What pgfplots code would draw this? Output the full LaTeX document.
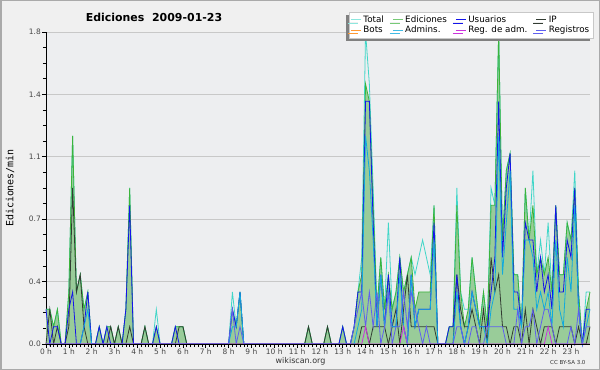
\documentclass[border=0pt]{standalone}
\usepackage{fontspec}
\setmainfont{DejaVu Sans}
\newfontfamily\monofont{DejaVu Sans Mono}
\usepackage{pgfplots}
\pgfplotsset{compat=1.18}
\usepackage{pgfplotstable}
\usetikzlibrary{shadows}
\definecolor{bgouter}{RGB}{240,240,240}
\definecolor{plotbg}{RGB}{237,238,240}
\definecolor{bordercol}{RGB}{170,170,170}
\definecolor{gridcol}{RGB}{200,200,200}
\definecolor{ticktext}{RGB}{70,70,70}
\definecolor{fillc}{RGB}{153,204,153}
\definecolor{totalc}{RGB}{64,214,200}
\definecolor{edc}{RGB}{60,180,60}
\definecolor{usrc}{RGB}{20,20,235}
\definecolor{ipc}{RGB}{50,60,50}
\definecolor{botc}{RGB}{255,153,51}
\definecolor{admc}{RGB}{17,170,221}
\definecolor{regadmc}{RGB}{204,51,221}
\definecolor{regc}{RGB}{95,95,240}
\definecolor{shadowc}{RGB}{128,128,128}
\definecolor{legborder}{RGB}{200,200,200}

\pgfplotstableread{
i E T U P A R M
0 0.2 0.2 0.2 0.0 0.0 0.0 0.0
1 0.2 0.2 0.0 0.2 0.0 0.0 0.0
2 0.1 0.1 0.1 0.0 0.0 0.0 0.0
3 0.2 0.2 0.1 0.1 0.0 0.0 0.0
4 0 0 0 0 0 0 0
5 0 0 0 0 0 0 0
6 0.3 0.3 0.2 0.1 0 0 0
7 1.2 1.2 0.3 0.9 0 0 0
8 0.3 0.3 0 0.3 0 0 0
9 0.4 0.4 0 0.4 0 0 0
10 0.2 0.2 0.1 0.1 0.1 0 0
11 0.3 0.3 0.3 0 0.2 0 0
12 0 0 0 0 0 0 0
13 0 0 0 0 0 0 0
14 0.1 0.1 0.1 0 0 0 0
15 0 0 0 0 0 0 0
16 0.1 0.1 0.1 0 0 0 0
17 0.1 0.1 0 0.1 0 0 0
18 0 0 0 0 0 0 0
19 0.1 0.1 0 0.1 0 0 0
20 0 0 0 0 0 0 0
21 0.2 0.2 0.2 0 0 0 0
22 0.9 0.9 0.8 0.1 0 0 0
23 0 0 0 0 0 0 0
24 0 0 0 0 0 0 0
25 0 0 0 0 0 0 0
26 0.1 0.1 0 0.1 0 0 0
27 0 0 0 0 0 0 0
28 0 0 0 0 0 0 0
29 0.1 0.2 0.1 0 0 0 0
30 0 0 0 0 0 0 0
31 0 0 0 0 0 0 0
32 0 0 0 0 0 0 0
33 0 0 0 0 0 0 0
34 0.1 0.1 0.1 0 0 0 0
35 0.1 0.1 0 0.1 0 0 0
36 0.1 0.1 0 0.1 0 0 0
37 0 0 0 0 0 0 0
38 0 0 0 0 0 0 0
39 0 0 0 0 0 0 0
40 0 0 0 0 0 0 0
41 0 0 0 0 0 0 0
42 0 0 0 0 0 0 0
43 0 0 0 0 0 0 0
44 0 0 0 0 0 0 0
45 0 0 0 0 0 0 0
46 0 0 0 0 0 0 0
47 0 0 0 0 0 0 0
48 0 0 0 0 0 0 0
49 0.2 0.3 0.2 0 0.1 0.2 0
50 0.1 0.1 0.1 0 0.1 0 0
51 0.3 0.3 0.3 0 0.3 0.1 0
52 0 0 0 0 0 0 0
53 0 0 0 0 0 0 0
54 0 0 0 0 0 0 0
55 0 0 0 0 0 0 0
56 0 0 0 0 0 0 0
57 0 0 0 0 0 0 0
58 0 0 0 0 0 0 0
59 0 0 0 0 0 0 0
60 0 0 0 0 0 0 0
61 0 0 0 0 0 0 0
62 0 0 0 0 0 0 0
63 0 0 0 0 0 0 0
64 0 0 0 0 0 0 0
65 0 0 0 0 0 0 0
66 0 0 0 0 0 0 0
67 0 0 0 0 0 0 0
68 0 0 0 0 0 0 0
69 0.1 0.1 0 0.1 0 0 0
70 0 0 0 0 0 0 0
71 0 0 0 0 0 0 0
72 0 0 0 0 0 0 0
73 0 0 0 0 0 0 0
74 0.1 0.1 0 0.1 0 0 0
75 0 0 0 0 0 0 0
76 0 0 0 0 0 0 0
77 0 0 0 0 0 0 0
78 0.1 0.1 0.1 0 0 0 0
79 0 0 0 0 0 0 0
80 0 0 0 0 0 0 0
81 0.1 0.1 0.1 0 0 0.1 0
82 0.3 0.3 0.3 0 0.1 0.2 0
83 0.4 0.5 0.3 0.1 0.2 0.3 0
84 1.5 1.8 1.4 0.1 1.2 0.1 0.1
85 1.4 1.5 1.4 0 1.0 0.3 0
86 0.8 0.9 0.7 0.1 0.6 0.1 0
87 0.2 0.2 0.1 0.1 0.1 0.3 0
88 0.5 0.5 0.4 0.1 0.4 0 0
89 0.2 0.2 0.1 0.1 0.1 0.1 0
90 0.4 0.7 0.4 0 0.3 0.3 0
91 0.2 0.2 0.1 0.1 0.1 0 0
92 0.3 0.3 0.1 0.2 0.1 0.1 0
93 0.5 0.5 0.5 0 0.4 0.1 0
94 0.3 0.3 0.1 0.2 0.1 0.3 0.1
95 0.4 0.4 0 0.4 0 0.1 0
96 0.5 0.5 0.4 0.1 0.4 0.3 0
97 0.2 0.4 0.1 0.1 0.1 0.2 0
98 0.3 0.5 0.2 0.1 0.2 0.1 0
99 0.3 0.6 0.2 0.1 0.2 0 0
100 0.3 0.5 0.2 0.1 0.2 0.1 0
101 0.3 0.4 0.2 0.1 0.2 0 0
102 0.8 0.8 0.7 0.1 0.6 0 0
103 0 0 0 0 0 0 0
104 0 0 0 0 0 0 0
105 0 0 0 0 0 0 0
106 0.1 0.1 0.1 0 0 0 0
107 0.1 0.1 0.1 0 0 0 0
108 0.8 0.9 0.4 0.4 0.3 0.1 0
109 0.3 0.3 0.1 0.2 0.1 0.1 0
110 0.1 0.2 0 0.1 0 0 0
111 0.2 0.2 0.1 0.1 0.1 0 0
112 0.5 0.5 0.3 0.2 0.3 0.1 0
113 0.3 0.3 0.2 0.1 0.2 0.1 0
114 0.1 0.1 0.1 0 0.1 0 0
115 0.3 0.3 0.1 0.2 0.1 0 0
116 0.1 0.1 0.1 0 0 0.1 0
117 0.8 0.9 0.3 0.5 0.2 0.1 0
118 0.8 0.8 0.5 0.3 0.3 0.1 0
119 1.8 1.8 1.4 0.4 1.2 0.1 0
120 0.6 0.6 0.5 0.1 0.4 0.1 0
121 1.0 1.0 0.9 0.1 0.7 0 0
122 1.1 1.1 1.1 0 1.0 0 0
123 0.4 0.4 0.3 0.1 0.2 0 0
124 0.4 0.4 0.3 0.1 0.2 0.2 0
125 0.1 0.1 0.1 0 0.1 0 0
126 0.9 0.9 0.7 0.2 0.6 0.1 0
127 0.6 0.6 0.6 0 0.6 0.1 0
128 0.8 1.0 0.6 0.2 0.5 0.2 0
129 0.4 0.4 0.3 0.1 0.2 0 0
130 0.5 0.6 0.5 0 0.3 0.1 0
131 0.4 0.4 0.3 0.1 0.2 0.2 0
132 0.5 0.7 0.4 0.1 0.3 0.2 0.1
133 0.3 0.3 0.2 0.1 0.1 0.1 0
134 0.8 0.8 0.8 0 0.6 0 0
135 0.4 0.4 0.3 0.1 0.2 0 0
136 0.4 0.4 0.3 0.1 0.1 0 0
137 0.7 0.7 0.6 0.1 0.5 0 0
138 0.6 0.6 0.5 0.1 0.3 0.1 0
139 0.9 1.0 0.9 0 0.8 0 0
140 0.3 0.3 0.2 0.1 0.2 0.2 0
141 0 0 0 0 0 0 0
142 0.2 0.3 0.2 0 0.1 0.1 0
143 0.3 0.3 0.2 0.1 0.2 0.1 0
}\data

\begin{document}
\begin{tikzpicture}
\fill[bgouter] (0,0) rectangle (600bp,370bp);
\draw[bordercol, line width=1.5bp] (0.75bp,0.75bp) rectangle (599.25bp,369.25bp);
\begin{axis}[
  at={(46bp,26bp)}, anchor=south west,
  scale only axis, width=544bp, height=312bp,
  xmin=0, xmax=23.8333, ymin=0, ymax=1.8,
  clip=false,
  axis background/.style={fill=plotbg},
  axis x line*=bottom, axis y line*=left,
  axis line style={black, line width=0.9bp, -},
  xtick={0,1,...,23},
  xticklabels={0 h,1 h,2 h,3 h,4 h,5 h,6 h,7 h,8 h,9 h,10 h,11 h,12 h,13 h,14 h,15 h,16 h,17 h,18 h,19 h,20 h,21 h,22 h,23 h},
  minor x tick num=5,
  ytick={0,0.36,0.72,1.08,1.44,1.8},
  yticklabels={0.0,0.4,0.7,1.1,1.4,1.8},
  minor y tick num=3,
  ymajorgrids, grid style={gridcol, line width=0.8bp},
  tick align=outside, major tick length=4bp, minor tick length=3bp,
  tick style={black, line width=0.6bp},
  ticklabel style={font=\fontsize{7.5}{8}\selectfont, text=ticktext},
  yticklabel style={inner sep=1bp},
  xticklabel style={inner sep=1bp},
  legend columns=4,
  legend cell align=left,
  legend image code/.code={\draw[#1, line width=0.9bp] (0bp,0bp) -- (10bp,0bp);},
  legend style={at={(1.0055,1.0641)}, anchor=north east, draw=legborder, fill=white,
    font=\fontsize{8.8}{9}\selectfont, inner sep=1.5bp, row sep=-1.5bp,
    /tikz/every even column/.append style={column sep=6.5bp},
    drop shadow={shadow xshift=-3bp, shadow yshift=-3bp, fill=shadowc, opacity=1}},
  after end axis/.code={\draw[black, line width=0.9bp] (rel axis cs:0,0) -- (rel axis cs:1,0);},
]
\addlegendimage{totalc!60}\addlegendentry{Total}
\addlegendimage{edc!70}\addlegendentry{Ediciones}
\addlegendimage{usrc}\addlegendentry{Usuarios}
\addlegendimage{ipc}\addlegendentry{IP}
\addlegendimage{botc}\addlegendentry{Bots}
\addlegendimage{admc!80}\addlegendentry{Admins.}
\addlegendimage{regadmc}\addlegendentry{Reg. de adm.}
\addlegendimage{regc}\addlegendentry{Registros}

\addplot[draw=none, fill=fillc, forget plot] table[x expr=\thisrow{i}/6, y=E]{\data} \closedcycle;
\addplot[totalc, line width=0.8bp, forget plot] table[x expr=\thisrow{i}/6, y=T]{\data};
\addplot[edc, line width=0.8bp, forget plot] table[x expr=\thisrow{i}/6, y=E]{\data};
\addplot[ipc, line width=0.8bp, forget plot] table[x expr=\thisrow{i}/6, y=P]{\data};
\addplot[usrc, line width=0.8bp, forget plot] table[x expr=\thisrow{i}/6, y=U]{\data};
\addplot[admc, line width=0.8bp, forget plot] table[x expr=\thisrow{i}/6, y=A]{\data};
\addplot[regc, line width=0.8bp, forget plot] table[x expr=\thisrow{i}/6, y=R]{\data};
\addplot[regadmc, line width=0.8bp, forget plot] table[x expr=\thisrow{i}/6, y=M]{\data};
\end{axis}
\node[font=\bfseries\fontsize{11}{12}\selectfont] at (154bp,353bp) {Ediciones\hspace{0.7em}2009-01-23};
\node[rotate=90, font=\monofont\fontsize{10}{11}\selectfont] at (10bp,182bp) {Ediciones/min};
\node[font=\fontsize{8}{9}\selectfont, text=black!80] at (300.5bp,8.5bp) {wikiscan.org};
\node[anchor=east, font=\fontsize{5.5}{6}\selectfont, text=black!80] at (589bp,7.5bp) {CC BY-SA 3.0};
\pgfresetboundingbox
\useasboundingbox (0,0) rectangle (600bp,370bp);
\end{tikzpicture}
\end{document}
